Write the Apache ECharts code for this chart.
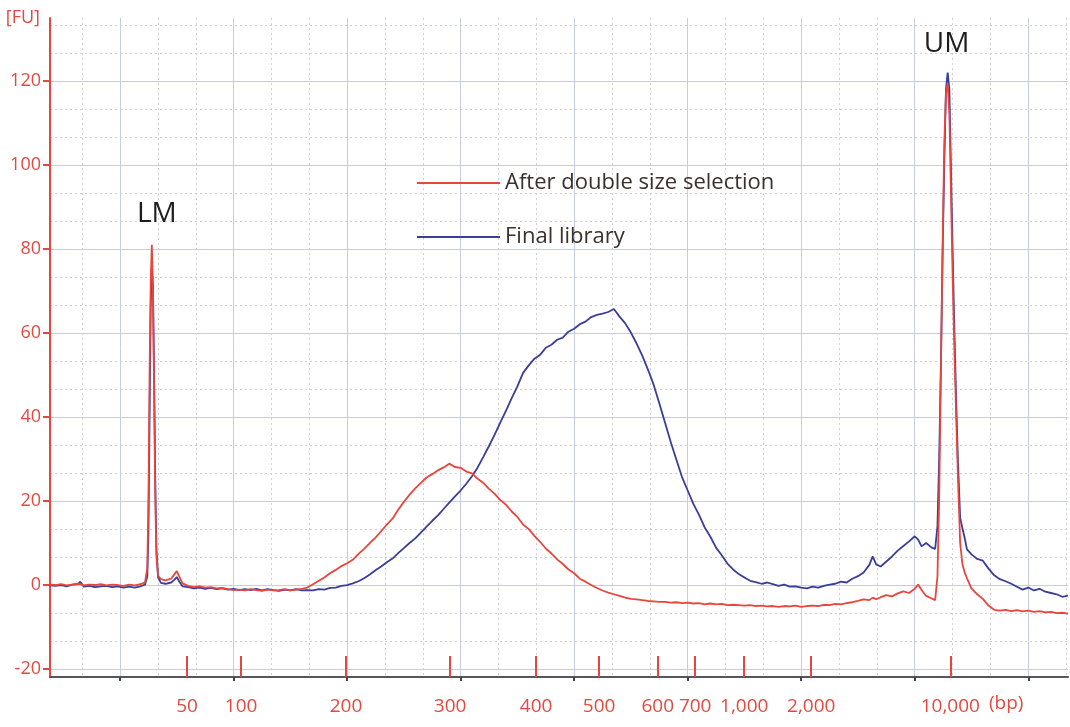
<!DOCTYPE html>
<html>
<head>
<meta charset="utf-8">
<title>Electropherogram</title>
<script src="https://cdn.jsdelivr.net/npm/echarts@6/dist/echarts.min.js"></script>
<style>
  html, body { margin: 0; padding: 0; background: #ffffff; }
  #chart { width: 1070px; height: 727px; }
</style>
</head>
<body>
<div id="chart"></div>
<script>
// Migration time (s) at which each trace sample was taken
const migrationTime = [
  43.8, 44.3, 44.8, 45.3, 45.8, 46.3, 46.5, 46.8, 47.3, 47.8, 48.3, 48.8, 49.3, 49.8,
  50.3, 50.8, 51.3, 51.8, 52.2, 52.4, 52.5, 52.6, 52.7, 52.8, 52.9, 53.0, 53.1, 53.2,
  53.35, 53.6, 54.0, 54.5, 54.8, 55.0, 55.2, 55.5,
  56.0, 56.5, 57.0, 57.5, 58.0, 58.5, 59.0, 59.5, 60.0, 60.5, 61.0, 61.5, 62.0, 62.5,
  63.0, 63.5, 64.0, 64.5, 65.0, 65.5, 66.0, 66.5, 67.0, 67.5, 68.0, 68.5, 69.0, 69.5,
  70.0, 70.5, 71.0, 71.5, 72.0, 72.5, 73.0, 73.5, 74.0, 74.5, 75.0, 75.5, 76.0, 76.5,
  77.0, 77.5, 78.0, 78.5, 79.0, 79.5, 80.0, 80.5, 81.0, 81.5, 82.0, 82.5, 83.0, 83.5,
  84.0, 84.5, 85.0, 85.5, 86.0, 86.5, 87.0, 87.5, 88.0, 88.5, 89.0, 89.5, 90.0, 90.5,
  91.0, 91.5, 92.0, 92.5, 93.0, 93.5, 94.0, 94.5, 95.0, 95.5, 96.0, 96.5, 97.0, 97.5,
  98.0, 98.5, 99.0, 99.5, 100.0, 100.5, 101.0, 101.5, 102.0, 102.5, 103.0, 103.5,
  104.0, 104.5, 105.0, 105.5, 106.0, 106.5, 107.0, 107.5, 108.0, 108.5, 109.0, 109.5,
  110.0, 110.5, 111.0, 111.5, 112.0, 112.5, 113.0, 113.5, 114.0, 114.5, 115.0, 115.5,
  116.0, 116.3, 116.6, 117.0, 117.5, 118.0, 118.5, 119.0, 119.5, 120.0, 120.3, 120.6,
  121.0, 121.5, 121.8, 122.0, 122.15, 122.3, 122.45, 122.6, 122.75, 122.9, 123.05,
  123.2, 123.35, 123.5, 123.65, 123.8, 124.0, 124.2, 124.4, 124.6, 125.0, 125.5,
  126.0, 126.5, 127.0, 127.5, 128.0, 128.5, 129.0, 129.5, 130.0, 130.5, 131.0, 131.5,
  132.0, 132.5, 133.0, 133.5
];

// Fluorescence (FU) after double size selection
const afterDoubleSizeSelection = [
  0.1, 0.0, 0.2, -0.1, 0.1, 0.3, 0.2, -0.1, 0.1, 0.0, 0.2, -0.1, 0.1, 0.0,
  -0.2, 0.1, -0.1, 0.2, 0.6, 4.0, 20, 50, 72, 81, 70, 46, 21, 7,
  2.2, 1.4, 1.1, 1.5, 2.6, 3.3, 2.1, 0.4,
  -0.2, -0.5, -0.3, -0.6, -0.5, -0.8, -0.7, -1.0, -1.2, -1.1, -1.3, -1.0, -1.2, -1.4,
  -1.1, -1.3, -1.2, -1.0, -1.3, -1.1, -0.9, -0.6, 0.2, 1.0, 1.8, 2.8, 3.6, 4.5,
  5.2, 6.0, 7.4, 8.6, 10.0, 11.3, 12.8, 14.4, 15.8, 17.9, 19.8, 21.5, 23.0, 24.3,
  25.6, 26.4, 27.3, 28.0, 28.9, 28.1, 27.9, 27.0, 26.6, 25.3, 24.3, 22.9, 21.7, 20.2,
  19.1, 17.5, 16.2, 14.4, 13.3, 11.7, 10.3, 8.7, 7.5, 6.1, 5.0, 3.7, 2.8, 1.5,
  0.8, 0.0, -0.7, -1.3, -1.8, -2.2, -2.6, -3.0, -3.3, -3.4, -3.6, -3.8, -3.9, -4.0,
  -4.0, -4.2, -4.1, -4.3, -4.2, -4.4, -4.3, -4.6, -4.4, -4.6, -4.5, -4.8,
  -4.7, -4.8, -4.9, -4.8, -5.0, -4.9, -5.1, -5.0, -5.2, -5.0, -5.1, -4.9,
  -5.2, -5.0, -4.9, -5.0, -4.7, -4.8, -4.5, -4.6, -4.3, -4.1, -3.8, -3.4,
  -3.6, -3.0, -3.4, -2.9, -2.4, -2.7, -2.0, -1.5, -1.9, -0.9, 0.1, -1.2,
  -2.6, -3.2, -3.6, 2.0, 20, 50, 80, 105, 117, 119.5, 112,
  92, 72, 55, 40, 26, 10, 5.0, 3.0, 1.6, -0.8, -2.2,
  -3.3, -4.9, -5.9, -6.1, -5.9, -6.2, -6.0, -6.3, -6.1, -6.4, -6.2, -6.5,
  -6.4, -6.7, -6.6, -6.8
];

// Fluorescence (FU) of the final library
const finalLibrary = [
  -0.1, -0.2, 0.0, -0.3, 0.1, 0.2, 0.8, -0.4, -0.2, -0.5, -0.3, -0.2, -0.5, -0.3,
  -0.6, -0.4, -0.6, -0.3, 0.1, 2.0, 12, 40, 66, 76, 71, 50, 26, 9,
  1.8, 0.5, 0.3, 0.6, 1.3, 1.9, 0.9, -0.3,
  -0.5, -0.8, -0.6, -0.9, -0.7, -1.0, -0.8, -1.1, -0.9, -1.2, -1.0, -1.2, -0.9, -1.3,
  -1.0, -1.2, -1.4, -1.1, -1.3, -1.0, -1.3, -1.2, -1.3, -1.0, -1.1, -0.7, -0.6, -0.2,
  0.0, 0.4, 0.9, 1.6, 2.5, 3.5, 4.4, 5.4, 6.3, 7.6, 8.8, 10.0, 11.1, 12.5,
  13.9, 15.3, 16.6, 18.1, 19.6, 21.1, 22.5, 24.1, 25.9, 28.0, 30.5, 33.1, 35.8, 38.7,
  41.5, 44.5, 47.3, 50.5, 52.3, 53.9, 54.8, 56.5, 57.2, 58.4, 58.9, 60.3, 61.0, 62.1,
  62.7, 63.8, 64.3, 64.6, 65.0, 65.7, 63.9, 62.3, 60.1, 57.5, 54.6, 51.3, 47.7, 43.3,
  38.7, 34.1, 29.9, 25.7, 22.5, 19.3, 16.7, 13.7, 11.5, 8.9, 7.1, 5.1,
  3.7, 2.6, 1.8, 1.0, 0.7, 0.3, 0.6, 0.2, -0.2, 0.1, -0.4, -0.3,
  -0.6, -0.8, -0.4, -0.6, -0.2, 0.1, 0.3, 0.8, 0.6, 1.5, 2.1, 3.0,
  4.8, 6.8, 4.9, 4.4, 5.6, 6.8, 8.2, 9.3, 10.4, 11.6, 10.8, 9.2,
  10.0, 8.9, 8.6, 14, 30, 52, 78, 100, 118, 122, 118,
  98, 78, 60, 44, 30, 16, 13.5, 11.2, 8.5, 7.3, 6.2,
  5.8, 3.9, 2.3, 1.4, 0.9, 0.3, -0.4, -1.1, -0.6, -1.3, -0.9, -1.6,
  -1.9, -2.2, -2.8, -2.5
];

// Ladder sizes (bp) and the migration times they fall at
const ladderSizeLabels = ['50', '100', '200', '300', '400', '500', '600', '700', '1,000', '2,000', '10,000'];
const ladderSizeTimes = [55.9, 60.66, 69.9, 79.07, 86.65, 92.2, 97.36, 100.66, 104.98, 110.88, 123.13];

// Axis ticks and grid lines
const fuTicks = [-20, 0, 20, 40, 60, 80, 100, 120];
const fuMinorLines = [-13.33, -6.67, 6.67, 13.33, 26.67, 33.33, 46.67, 53.33, 66.67, 73.33,
  86.67, 93.33, 106.67, 113.33, 126.67, 133.33];
const timeMajorLines = [50, 60, 70, 80, 90, 100, 110, 120, 130];
const timeMinorLines = [46.67, 53.33, 56.67, 63.33, 66.67, 73.33, 76.67, 83.33, 86.67, 93.33,
  96.67, 103.33, 106.67, 113.33, 116.67, 123.33, 126.67, 133.33];

// Lower / upper marker peaks
const markerNames = ['LM', 'UM'];
const markerTimes = [52.8, 122.9];

const seriesNames = ['After double size selection', 'Final library'];
const RED = '#e8463d';
const BLUE = '#3b3e98';
const LABEL_RED = '#e24a40';

const chart = echarts.init(document.getElementById('chart'), null, { renderer: 'canvas' });

const pairs = (ys) => migrationTime.map((t, i) => [t, ys[i]]);

const markerData = markerNames.map((name, k) => {
  const i = migrationTime.indexOf(markerTimes[k]);
  return {
    name: name,
    coord: [migrationTime[i], afterDoubleSizeSelection[i]],
    label: { offset: k === 0 ? [5, -31] : [-1, -39] }
  };
});

const ladderLabel = (v) => {
  let best = 0;
  ladderSizeTimes.forEach((t, i) => {
    if (Math.abs(t - v) < Math.abs(ladderSizeTimes[best] - v)) best = i;
  });
  return ladderSizeLabels[best];
};

const xMin = 43.83, xMax = 133.5;
const yMin = -21.9, yMax = 135;

chart.setOption({
  animation: false,
  backgroundColor: '#ffffff',
  grid: { left: 50, right: 2, top: 18, bottom: 50, containLabel: false },
  legend: {
    orient: 'vertical',
    left: 417,
    top: 172,
    padding: 0,
    itemWidth: 83,
    itemHeight: 2,
    itemGap: 32,
    icon: 'rect',
    data: seriesNames,
    textStyle: { color: '#3a302c', fontSize: 22, fontFamily: 'Open Sans', padding: [0, 0, 0, 0] }
  },
  xAxis: [
    {
      type: 'value', position: 'bottom', min: xMin, max: xMax,
      axisLine: { show: true, onZero: false, lineStyle: { color: '#55575c', width: 2 } },
      axisTick: { show: true, customValues: timeMajorLines, length: 4, lineStyle: { color: '#444', width: 2 } },
      axisLabel: { show: false },
      splitLine: { show: true, lineStyle: { color: '#c8cce0', width: 1 } }
    },
    {
      type: 'value', position: 'top', min: xMin, max: xMax,
      axisLine: { show: false },
      axisTick: { show: false, customValues: timeMinorLines },
      axisLabel: { show: false },
      splitLine: { show: true, lineStyle: { color: '#cfcfd4', width: 1, type: [2, 3] } }
    },
    {
      type: 'value', position: 'bottom', min: xMin, max: xMax,
      axisLine: { show: false, onZero: false },
      axisTick: { show: true, inside: true, length: 21, customValues: ladderSizeTimes, lineStyle: { color: RED, width: 2 } },
      axisLabel: {
        show: true, customValues: ladderSizeTimes, margin: 20,
        color: LABEL_RED, fontSize: 19, fontFamily: 'Open Sans',
        formatter: ladderLabel
      },
      splitLine: { show: false }
    }
  ],
  yAxis: [
    {
      type: 'value', position: 'left', min: yMin, max: yMax,
      name: '[FU]', nameLocation: 'end', nameGap: 0,
      nameTextStyle: { color: LABEL_RED, fontSize: 18, fontFamily: 'Open Sans', align: 'right', verticalAlign: 'middle', padding: [0, 10, 0, 0] },
      axisLine: { show: true, onZero: false, lineStyle: { color: RED, width: 2 } },
      axisTick: { show: true, customValues: fuTicks, length: 7, lineStyle: { color: RED, width: 2 } },
      axisLabel: { show: true, customValues: fuTicks, margin: 9, color: LABEL_RED, fontSize: 18, fontFamily: 'Open Sans' },
      splitLine: { show: true, lineStyle: { color: '#c8cce0', width: 1 } }
    },
    {
      type: 'value', position: 'right', min: yMin, max: yMax,
      axisLine: { show: false },
      axisTick: { show: false, customValues: fuMinorLines },
      axisLabel: { show: false },
      splitLine: { show: true, lineStyle: { color: '#cfcfd4', width: 1, type: [2, 3] } }
    }
  ],
  series: [
    {
      name: seriesNames[1],
      type: 'line',
      xAxisIndex: 0, yAxisIndex: 0,
      data: pairs(finalLibrary),
      showSymbol: false,
      lineStyle: { color: BLUE, width: 1.8 },
      itemStyle: { color: BLUE },
      z: 3
    },
    {
      name: seriesNames[0],
      type: 'line',
      xAxisIndex: 0, yAxisIndex: 0,
      data: pairs(afterDoubleSizeSelection),
      showSymbol: false,
      lineStyle: { color: RED, width: 1.8 },
      itemStyle: { color: RED },
      z: 4,
      markPoint: {
        symbol: 'circle',
        symbolSize: 0,
        silent: true,
        label: {
          show: true, position: 'inside', formatter: '{b}',
          color: '#1e1e1e', fontSize: 28, fontFamily: 'Open Sans'
        },
        data: markerData
      }
    }
  ],
  graphic: [
    {
      type: 'text', left: 989, top: 694, silent: true,
      style: { text: '(bp)', fill: LABEL_RED, fontSize: 19, fontFamily: 'Open Sans' }
    }
  ]
});
</script>
</body>
</html>
